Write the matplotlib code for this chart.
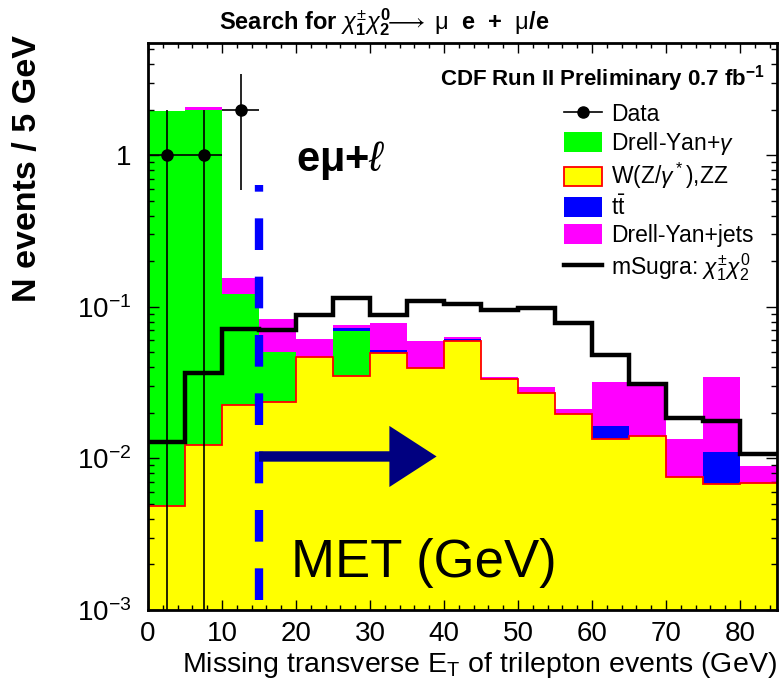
import numpy as np
import matplotlib
matplotlib.use("Agg")
import matplotlib.pyplot as plt
from matplotlib.lines import Line2D
from matplotlib.patches import Patch
from matplotlib.ticker import FixedLocator, LogLocator, MultipleLocator, NullFormatter

plt.rcParams['font.family'] = ['Liberation Sans', 'DejaVu Sans']
plt.rcParams['mathtext.fontset'] = 'custom'
plt.rcParams['mathtext.rm'] = 'Liberation Sans'
plt.rcParams['mathtext.it'] = 'Liberation Sans:italic'
plt.rcParams['mathtext.bf'] = 'Liberation Sans:bold'

# bins of missing E_T (GeV)
bin_edges = [0, 5, 10, 15, 20, 25, 30, 35, 40, 45, 50, 55, 60, 65, 70, 75, 80, 85]

# stacked backgrounds, contribution of each sample per bin (events / 5 GeV)
wz_zz = [0.00485, 0.0123, 0.0225, 0.0234, 0.0469, 0.0349, 0.0493, 0.0396, 0.0598,
         0.0335, 0.0271, 0.0196, 0.0134, 0.0141, 0.0075, 0.0068, 0.0069]
dy_gamma = [1.945, 1.988, 0.0985, 0.0271, 0, 0.0346, 0, 0, 0,
            0, 0, 0, 0, 0, 0, 0, 0]
ttbar = [0, 0, 0, 0, 0, 0.0025, 0.0027, 0, 0.0012,
         0, 0, 0, 0.0030, 0, 0, 0.0042, 0]
dy_jets = [0, 0.07, 0.034, 0.0325, 0.0141, 0.0037, 0.0257, 0.0201, 0.0026,
           0.0008, 0.0023, 0.0015, 0.0154, 0.0172, 0.0059, 0.0233, 0.0020]

# signal expectation
msugra = [0.0129, 0.0367, 0.071, 0.070, 0.088, 0.1147, 0.088, 0.109, 0.105,
          0.095, 0.0976, 0.0778, 0.048, 0.031, 0.0184, 0.0177, 0.0107]

# observed events
data_x = [2.5, 7.5, 12.5]
data_n = [1, 1, 2]

met_cut = 15
arrow_end = 39
arrow_y = 0.0103

edges = np.array(bin_edges)
centers = (edges[:-1] + edges[1:]) / 2
width = np.diff(edges)

fig = plt.figure(figsize=(7.79, 6.93), dpi=100)
ax = fig.add_axes([148 / 779, 83 / 693, 629 / 779, 567 / 693])

# stack: yellow at bottom, then green, blue, magenta
bottom = np.zeros(len(centers))
for vals, col in [(wz_zz, '#ffff00'), (dy_gamma, '#00ff00'),
                  (ttbar, '#0000ff'), (dy_jets, '#ff00ff')]:
    v = np.array(vals)
    ax.bar(centers, v, width=width, bottom=bottom, color=col, lw=0, zorder=1)
    bottom = bottom + v

# red outline of the W(Z/gamma*),ZZ histogram
ax.stairs(wz_zz, edges, baseline=None, color='red', lw=1.3, zorder=2)

# signal
ax.stairs(msugra, edges, baseline=None, color='black', lw=3.2, zorder=3)

# data
n = np.array(data_n, dtype=float)
ax.errorbar(data_x, n, yerr=np.sqrt(n), xerr=2.5, fmt='o', color='black',
            ms=8, elinewidth=1.2, capsize=0, zorder=5)

# MET cut
ax.axvline(met_cut, ymin=0.018, ymax=0.75, color='#0000ff', lw=6,
           dashes=(3.8, 3.2), zorder=4)
ax.annotate('', xy=(arrow_end, arrow_y), xytext=(met_cut, arrow_y),
            arrowprops=dict(arrowstyle='simple,head_length=34,head_width=44,tail_width=7.5',
                            mutation_scale=1, color='#000080', lw=0,
                            shrinkA=0, shrinkB=0), zorder=6)

ax.set_yscale('log')
ax.set_xlim(0, 85)
ax.set_ylim(1e-3, 5.5)

ax.yaxis.set_major_locator(FixedLocator([1e-3, 1e-2, 1e-1, 1]))
ax.set_yticklabels(['10$^{-3}$', '10$^{-2}$', '10$^{-1}$', '1'])
ax.yaxis.set_minor_locator(LogLocator(base=10, subs=np.arange(2, 10)))
ax.yaxis.set_minor_formatter(NullFormatter())
ax.xaxis.set_major_locator(MultipleLocator(10))
ax.xaxis.set_minor_locator(MultipleLocator(2))

ax.tick_params(which='both', direction='in', top=True, right=True, labelsize=20)
ax.tick_params(axis='x', which='major', length=7, width=1, pad=8)
ax.tick_params(axis='x', which='minor', length=3.5, width=1)
ax.tick_params(axis='y', which='major', length=8, width=1, pad=12)
ax.tick_params(axis='y', which='minor', length=4, width=1)
for s in ax.spines.values():
    s.set_linewidth(2)
    s.set_zorder(10)

fig.text(777 / 779, 1 - 665 / 693, 'Missing transverse E$_\\mathrm{T}$ of trilepton events (GeV)',
         ha='right', va='center', fontsize=20.5)
fig.text(28 / 779, 1 - 35 / 693, 'N events / 5 GeV', rotation=90, ha='center', va='top',
         fontsize=24.5, fontweight='bold')
fig.text(384 / 779, 1 - 22 / 693,
         'Search for $\\chi_\\mathbf{1}^{\\pm}\\chi_\\mathbf{2}^\\mathbf{0}\\!\\!\\longrightarrow$ $\\mathrm{\\mu}$  e  +  $\\mathrm{\\mu}$/e',
         ha='center', va='center', fontsize=17, fontweight='bold')
fig.text(765 / 779, 1 - 79 / 693, 'CDF Run II Preliminary 0.7 fb$^\\mathbf{-1}$',
         ha='right', va='center', fontsize=16, fontweight='bold')

ax.text(20, 0.93, 'eμ+$\\ell$', fontsize=30, fontweight='bold', ha='left', va='center', zorder=7)
ax.text(19.3, 0.00204, 'MET (GeV)', fontsize=38, ha='left', va='center', zorder=7)

handles = [
    Line2D([], [], color='black', marker='o', ms=8, lw=1.2),
    Patch(facecolor='#00ff00', edgecolor='none'),
    Patch(facecolor='#ffff00', edgecolor='red', lw=1.3),
    Patch(facecolor='#0000ff', edgecolor='none'),
    Patch(facecolor='#ff00ff', edgecolor='none'),
    Line2D([], [], color='black', lw=3.2),
]
labels = ['Data', 'Drell-Yan+$\\gamma$', 'W(Z/$\\gamma^*$),ZZ', 't$\\bar{\\mathrm{t}}$',
          'Drell-Yan+jets', 'mSugra: $\\chi_1^{\\pm}\\chi_2^0$']
fig.legend(handles, labels, loc='upper left', bbox_to_anchor=(564 / 779, 1 - 103 / 693),
           frameon=False, fontsize=16.5, handlelength=1.65, handleheight=0.95,
           handletextpad=0.4, labelspacing=0.18, borderpad=0, borderaxespad=0)

fig.savefig('out.png', dpi=100)
